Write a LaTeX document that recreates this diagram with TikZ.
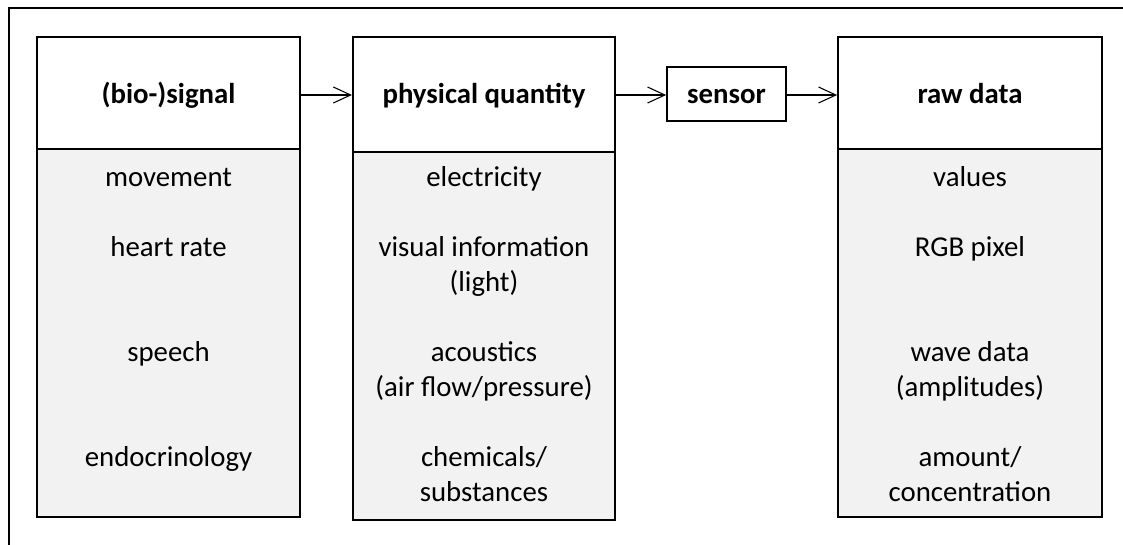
\documentclass[tikz,border=0pt]{standalone}
\usepackage{fontspec}
\setmainfont{Carlito}
\usetikzlibrary{arrows.meta}
\definecolor{bodyfill}{HTML}{F2F2F2}
\tikzset{
  every node/.style={font=\fontsize{21.6pt}{26pt}\selectfont},
  headbox/.style={draw=black, fill=white, line width=1.25pt, inner sep=0pt,
    minimum width=#1*0.75pt},
  bodybox/.style={draw=black, fill=bodyfill, line width=1.25pt, inner sep=0pt,
    minimum width=#1*0.75pt},
  title/.style={anchor=base, font=\fontsize{21.6pt}{26pt}\selectfont\bfseries, inner sep=0pt},
  item/.style={anchor=base, inner sep=0pt},
  flow/.style={line width=0.8pt, -{Straight Barb[length=13pt, width=12pt, line width=0.8pt]}},
  frame/.style={line width=2pt, line cap=rect},
}
\begin{document}
\begin{tikzpicture}[x=0.75pt, y=-0.75pt]
\useasboundingbox (0,0) rectangle (1123,544);

% cropped outer frame (top and left edges)
\coordinate (fr-tr) at (1123,8);
\coordinate (fr-tl) at (9,8);
\coordinate (fr-bl) at (9,544);
\draw[frame] (fr-tr) -- (fr-tl) -- (fr-bl);

% column 1: (bio-)signal
\node[bodybox=263, minimum height=368*0.75pt] (sigbody) at (168.5,333) {};
\node[headbox=263, minimum height=112*0.75pt] (sighead) at (168.5,93) {};
\node[title] (sigtitle) at (168.5,103) {(bio-)signal};
\node[item] (sig1) at (168.5,186) {movement};
\node[item] (sig2) at (168.5,256) {heart rate};
\node[item] (sig3) at (168.5,361) {speech};
\node[item] (sig4) at (168.5,466) {endocrinology};

% column 2: physical quantity
\node[bodybox=262, minimum height=368*0.75pt, line width=1.6pt] (phybody) at (484,336) {};
\node[headbox=262, minimum height=115*0.75pt, line width=1.6pt] (phyhead) at (484,94.5) {};
\node[title] (phytitle) at (484,103) {physical quantity};
\node[item] (phy1) at (484,186) {electricity};
\node[item] (phy2a) at (484,256) {visual information};
\node[item] (phy2b) at (484,291) {(light)};
\node[item] (phy3a) at (484,361) {acoustics};
\node[item] (phy3b) at (484,396) {(air flow/pressure)};
\node[item] (phy4a) at (484,466) {chemicals/};
\node[item] (phy4b) at (484,501) {substances};

% sensor
\node[headbox=119, minimum height=54*0.75pt] (sensor) at (726.5,94) {};
\node[title] (sentitle) at (726.5,103) {sensor};

% column 3: raw data
\node[bodybox=264, minimum height=368*0.75pt] (rawbody) at (970,333) {};
\node[headbox=264, minimum height=112*0.75pt] (rawhead) at (970,93) {};
\node[title] (rawtitle) at (970,103) {raw data};
\node[item] (raw1) at (970,186) {values};
\node[item] (raw2) at (970,256) {RGB pixel};
\node[item] (raw3a) at (970,361) {wave data};
\node[item] (raw3b) at (970,396) {(amplitudes)};
\node[item] (raw4a) at (970,466) {amount/};
\node[item] (raw4b) at (970,501) {concentration};

% flow arrows
\draw[flow] (sighead.east |- 0,95) -- (phyhead.west |- 0,95);
\draw[flow] (phyhead.east |- 0,95) -- (sensor.west |- 0,95);
\draw[flow] (sensor.east |- 0,95) -- (rawhead.west |- 0,95);
\end{tikzpicture}
\end{document}
